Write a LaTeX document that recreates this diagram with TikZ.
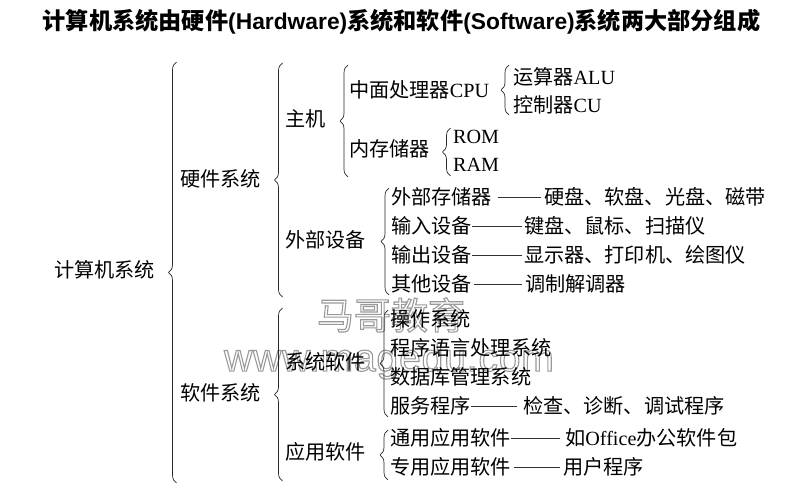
\documentclass[tikz,border=0pt]{standalone}
\usepackage{fontspec}
\setmainfont{Noto Sans CJK SC}
\newfontfamily\lat{Liberation Serif}
\newfontfamily\latb{Liberation Sans}
\newfontfamily\marksans[LetterSpace=2.2]{Liberation Sans}
\usetikzlibrary{decorations.pathreplacing}
\newcommand{\hollow}[1]{\special{pdf:code q 2 Tr 1.1 w 0.6 0.6 0.6 RG 1 1 1 rg}#1\special{pdf:code Q}}

\begin{document}
\begin{tikzpicture}[x=1pt,y=-1pt,
    lb/.style={anchor=west,inner sep=0pt,font=\fontsize{20.15}{20}\selectfont,text height=17.6pt,text depth=2.4pt},
    tie/.style={line width=0.8pt,black!80},
    curly/.style={line width=0.7pt,black!85,decorate,decoration={brace,amplitude=8pt,aspect=0.5}},
    wmark/.style={inner sep=0pt,text=white}]
  \useasboundingbox (0,0) rectangle (809,495);
  % watermark
  \node[wmark] (ma) at (391,315) {\fontsize{37}{37}\selectfont\hollow{马哥教育}};
  \node[wmark] (www) at (389,361) {\fontsize{39}{39}\selectfont\marksans\hollow{www.magedu.com}};
  % title
  \node[inner sep=0pt] (title) at (401.5,22) {\fontsize{23.2}{23}\selectfont\bfseries 计算机系统由硬件{\latb\fontsize{22.8}{23}\selectfont (Hardware)}系统和软件{\latb\fontsize{22.8}{23}\selectfont (Software)}系统两大部分组成};
  % braces
  \foreach \x/\t/\b in {176.5/62/483, 282.5/63/297, 282.5/308/481, 348/65/177,
      389/188/295, 388/310/417, 388/430/480, 509/65/115, 450.5/128/176}
    \draw[curly] (\x,\b) -- (\x,\t);
  % tree
  \node[lb] (root) at (54,270) {计算机系统};
  \node[lb] (hw) at (180,178.5) {硬件系统};
  \node[lb] (sw) at (180,392.5) {软件系统};
  \node[lb] (host) at (285,119) {主机};
  \node[lb] (ext) at (285,240) {外部设备};
  \node[lb] (syssw) at (285,362) {系统软件};
  \node[lb] (appsw) at (285,452) {应用软件};
  \node[lb] (cpu) at (349,90) {中面处理器{\lat CPU}};
  \node[lb] (mem) at (349,149) {内存储器};
  \node[lb] (alu) at (513,77) {运算器{\lat ALU}};
  \node[lb] (cu) at (513,105) {控制器{\lat CU}};
  \node[lb] (rom) at (453,136) {\lat ROM};
  \node[lb] (ram) at (453,164) {\lat RAM};
  \node[lb] (store) at (391,197) {外部存储器};
  \node[lb] (disk) at (544,197) {硬盘、软盘、光盘、磁带};
  \node[lb] (input) at (391,226) {输入设备};
  \node[lb] (keyb) at (524,226) {键盘、鼠标、扫描仪};
  \node[lb] (output) at (391,255) {输出设备};
  \node[lb] (screen) at (524,255) {显示器、打印机、绘图仪};
  \node[lb] (other) at (391,284) {其他设备};
  \node[lb] (modem) at (525,284) {调制解调器};
  \node[lb] (os) at (390,319) {操作系统};
  \node[lb] (lang) at (390,348) {程序语言处理系统};
  \node[lb] (db) at (390,377) {数据库管理系统};
  \node[lb] (serv) at (390,406) {服务程序};
  \node[lb] (check) at (523,406) {检查、诊断、调试程序};
  \node[lb] (gen) at (390,438) {通用应用软件};
  \node[lb] (office) at (565,438) {如{\lat Office}办公软件包};
  \node[lb] (spec) at (390,467) {专用应用软件};
  \node[lb] (user) at (563,467) {用户程序};
  % ties
  \draw[tie,shorten <=6pt,shorten >=3pt] (store) -- (disk);
  \draw[tie,shorten <=0pt,shorten >=2pt] (input) -- (keyb);
  \draw[tie,shorten <=0pt,shorten >=2pt] (output) -- (screen);
  \draw[tie,shorten <=2pt,shorten >=3pt] (other) -- (modem);
  \draw[tie,shorten >=6pt] (serv) -- (check);
  \draw[tie,shorten >=5pt] (gen) -- (office);
  \draw[tie,shorten <=3pt,shorten >=3pt] (spec) -- (user);
\end{tikzpicture}
\end{document}
